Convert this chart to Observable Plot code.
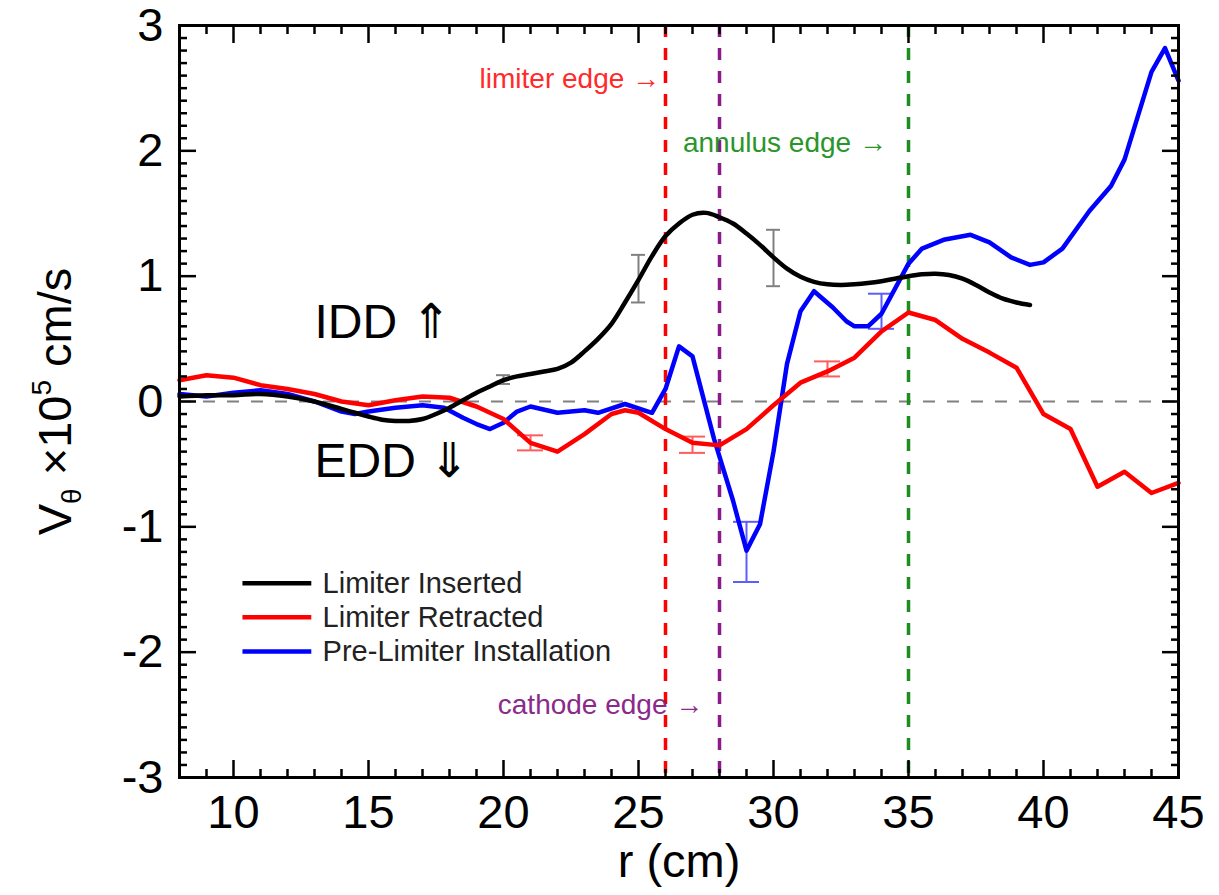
<!DOCTYPE html>
<html><head><meta charset="utf-8">
<script src="https://cdn.jsdelivr.net/npm/d3@7"></script>
<script src="https://cdn.jsdelivr.net/npm/@observablehq/plot@0.6"></script>
<style>html,body{margin:0;padding:0;background:#fff;}</style>
</head><body><div id="chart"></div>
<script>
// ---- Data ----
const seriesNames = ["Limiter Inserted", "Limiter Retracted", "Pre-Limiter Installation"];
const seriesColors = ["#000000", "#ff0000", "#0000ff"];
const errColors = ["#808080", "#ff5c5c", "#5c5cff"];

const insertedR = [8, 9, 10, 11, 12, 13, 14, 14.5, 15, 15.5, 16, 16.5, 17, 17.5, 18, 18.5, 19, 19.5, 20, 20.5, 21, 21.5, 22, 22.5, 23, 23.5, 24, 24.5, 25, 25.5, 26, 26.5, 27, 27.5, 28, 28.5, 29, 29.5, 30, 30.5, 31, 31.5, 32, 32.5, 33, 33.5, 34, 34.5, 35, 35.5, 36, 36.5, 37, 37.5, 38, 38.5, 39, 39.5];
const insertedV = [0.04, 0.05, 0.05, 0.06, 0.04, 0.0, -0.06, -0.09, -0.12, -0.145, -0.155, -0.155, -0.14, -0.10, -0.05, 0.01, 0.07, 0.12, 0.17, 0.20, 0.22, 0.24, 0.26, 0.31, 0.40, 0.50, 0.62, 0.79, 0.97, 1.16, 1.32, 1.42, 1.49, 1.505, 1.47, 1.42, 1.34, 1.25, 1.15, 1.06, 0.995, 0.955, 0.935, 0.93, 0.935, 0.945, 0.96, 0.98, 1.0, 1.015, 1.02, 1.01, 0.98, 0.93, 0.87, 0.82, 0.79, 0.77];

const retractedR = [8, 9, 10, 11, 12, 13, 14, 15, 16, 17, 18, 19, 20, 21, 22, 23, 24, 24.5, 25, 26, 27, 28, 29, 30, 31, 32, 33, 34, 35, 36, 37, 38, 39, 40, 41, 42, 43, 44, 45];
const retractedV = [0.17, 0.21, 0.19, 0.13, 0.10, 0.06, 0.0, -0.03, 0.01, 0.04, 0.03, -0.04, -0.14, -0.33, -0.40, -0.26, -0.10, -0.07, -0.09, -0.22, -0.33, -0.35, -0.22, -0.03, 0.15, 0.24, 0.35, 0.56, 0.71, 0.65, 0.50, 0.39, 0.27, -0.10, -0.22, -0.68, -0.56, -0.73, -0.65];

const preR = [8, 9, 10, 11, 12, 13, 14, 14.5, 15, 16, 17, 17.8, 18.5, 19, 19.5, 20, 20.5, 21, 22, 23, 23.5, 24.5, 25.5, 26, 26.5, 27, 27.8, 28.5, 29, 29.5, 30, 30.5, 31, 31.5, 32.2, 32.7, 33, 33.5, 34, 35, 35.5, 36.3, 37.3, 38, 38.8, 39.5, 40, 40.7, 41.7, 42.5, 43, 44, 44.5, 45];
const preV = [0.06, 0.04, 0.07, 0.09, 0.06, 0.0, -0.08, -0.10, -0.08, -0.05, -0.03, -0.05, -0.13, -0.18, -0.22, -0.17, -0.08, -0.04, -0.09, -0.07, -0.09, -0.02, -0.09, 0.10, 0.44, 0.36, -0.30, -0.79, -1.19, -0.98, -0.40, 0.30, 0.72, 0.88, 0.75, 0.64, 0.60, 0.60, 0.70, 1.10, 1.22, 1.29, 1.33, 1.27, 1.15, 1.09, 1.11, 1.22, 1.52, 1.72, 1.93, 2.63, 2.82, 2.56];

// error bars: series index, r, low, high
const errSeries = [0, 0, 0, 1, 1, 1, 2, 2];
const errR      = [20, 25, 30, 21, 27, 32, 29, 34];
const errLo     = [0.14, 0.79, 0.92, -0.39, -0.41, 0.20, -1.44, 0.58];
const errHi     = [0.21, 1.17, 1.37, -0.27, -0.28, 0.32, -0.96, 0.86];

// edges (vertical dashed lines) and annotations
const edgeR = [26, 28, 35];
const edgeColors = ["#ff0000", "#8b1a8b", "#1e8c1e"];
const noteText = ["limiter edge \u2192", "cathode edge \u2192", "annulus edge \u2192"];
const noteR = [25.8, 27.4, 34.2];
const noteV = [2.57, -2.42, 2.06];
const noteColors = ["#ff2a2a", "#8b2a8b", "#2a962a"];

const regionText = ["IDD \u21d1", "EDD \u21d3"];
const regionR = [13, 13];
const regionV = [0.63, -0.48];

const xMajor = [10, 15, 20, 25, 30, 35, 40, 45];
const yMajor = [-3, -2, -1, 0, 1, 2, 3];
const xMinor = d3.range(8, 46).filter(d => d % 5 !== 0);
const yMinor = d3.range(-30, 31).filter(d => d % 10 !== 0).map(d => d / 10);

const xLabel = "r (cm)";
const yLabel = "V\u03b8 \u00d710\u2075 cm/s";

// ---- tables ----
const inserted = insertedR.map((r, i) => ({s: 0, r, v: insertedV[i]}));
const retracted = retractedR.map((r, i) => ({s: 1, r, v: retractedV[i]}));
const pre = preR.map((r, i) => ({s: 2, r, v: preV[i]}));
const errs = errR.map((r, i) => ({s: errSeries[i], r, lo: errLo[i], hi: errHi[i], color: errColors[errSeries[i]]}));
const errsBlack = errs.filter(d => d.s === 0);
const errsColor = errs.filter(d => d.s !== 0);
const edges = edgeR.map((r, i) => ({r, color: edgeColors[i]}));
const notes = noteText.map((t, i) => ({t, r: noteR[i], v: noteV[i], color: noteColors[i]}));
const regions = regionText.map((t, i) => ({t, r: regionR[i], v: regionV[i]}));
const legend = seriesNames.map((name, i) => ({name, color: seriesColors[i], v: -1.45 - i * 0.272}));

const font = "'Liberation Sans', Arial, Helvetica, sans-serif";

const caps = (data, half) => [
  Plot.ruleY(data, {y: "lo", x1: "r", x2: "r", stroke: "color", strokeWidth: 2, insetLeft: -half, insetRight: -half}),
  Plot.ruleY(data, {y: "hi", x1: "r", x2: "r", stroke: "color", strokeWidth: 2, insetLeft: -half, insetRight: -half})
];

const plot = Plot.plot({
  width: 1219, height: 895,
  marginLeft: 179, marginRight: 41, marginTop: 25, marginBottom: 118,
  x: {domain: [8, 45]},
  y: {domain: [-3, 3]},
  style: {fontFamily: font, background: "#fff", color: "#000", overflow: "visible"},
  marks: [
    Plot.ruleY([0], {stroke: "#808080", strokeWidth: 2, strokeDasharray: "12,12"}),
    Plot.ruleX(edges, {x: "r", stroke: "color", strokeWidth: 3.5, strokeDasharray: "12,11"}),
    // error bars
    Plot.ruleX(errs, {x: "r", y1: "lo", y2: "hi", stroke: "color", strokeWidth: 2}),
    ...caps(errsBlack, 7),
    ...caps(errsColor, 13),
    // curves
    Plot.line(pre, {x: "r", y: "v", stroke: seriesColors[2], strokeWidth: 4.5, strokeLinejoin: "round"}),
    Plot.line(retracted, {x: "r", y: "v", stroke: seriesColors[1], strokeWidth: 4.5, strokeLinejoin: "round"}),
    Plot.line(inserted, {x: "r", y: "v", stroke: seriesColors[0], strokeWidth: 4.5, curve: "catmull-rom"}),
    // annotations
    Plot.text(notes, {x: "r", y: "v", text: "t", fill: "color", fontSize: 28, textAnchor: "end"}),
    Plot.text(regions, {x: "r", y: "v", text: "t", fill: "#000", fontSize: 48, textAnchor: "start"}),
    // legend
    Plot.ruleY(legend, {y: "v", x1: 10.35, x2: 12.9, stroke: "color", strokeWidth: 4.5}),
    Plot.text(legend, {y: "v", x: 13.3, text: "name", fill: "#222", fontSize: 29, textAnchor: "start"}),
    // frame and ticks
    Plot.frame({stroke: "#000", strokeWidth: 3}),
    Plot.axisX({anchor: "bottom", ticks: xMajor, tickSize: -17, strokeWidth: 2.5, tickFormat: () => "", label: null}),
    Plot.axisX({anchor: "top", ticks: xMajor, tickSize: -17, strokeWidth: 2.5, tickFormat: () => "", label: null}),
    Plot.axisX({anchor: "bottom", ticks: xMinor, tickSize: -8, strokeWidth: 2.5, tickFormat: () => "", label: null}),
    Plot.axisX({anchor: "top", ticks: xMinor, tickSize: -8, strokeWidth: 2.5, tickFormat: () => "", label: null}),
    Plot.axisY({anchor: "left", ticks: yMajor, tickSize: -17, strokeWidth: 2.5, tickFormat: () => "", label: null}),
    Plot.axisY({anchor: "right", ticks: yMajor, tickSize: -17, strokeWidth: 2.5, tickFormat: () => "", label: null}),
    Plot.axisY({anchor: "left", ticks: yMinor, tickSize: -8, strokeWidth: 2.5, tickFormat: () => "", label: null}),
    Plot.axisY({anchor: "right", ticks: yMinor, tickSize: -8, strokeWidth: 2.5, tickFormat: () => "", label: null}),
    // tick labels
    Plot.axisX({anchor: "bottom", ticks: xMajor, tickSize: 0, tickPadding: 17, fontSize: 47, tickFormat: d => String(d), label: null}),
    Plot.axisY({anchor: "left", ticks: yMajor, tickSize: 0, tickPadding: 16, fontSize: 47, tickFormat: d => String(d), label: null}),
    // axis titles
    Plot.text([xLabel], {frameAnchor: "bottom", dy: 99, fontSize: 47, text: d => d}),
    Plot.text([yLabel], {frameAnchor: "left", rotate: -90, dx: -124, fontSize: 47, text: d => d})
  ]
});

document.getElementById("chart").appendChild(plot);

// Rich text for the y label (subscript theta, superscript 5)
d3.select(plot).selectAll("text").filter(function () { return this.textContent === yLabel; })
  .each(function () {
    const t = d3.select(this);
    t.attr("text-anchor", "middle").text("");
    t.append("tspan").text("V");
    t.append("tspan").attr("font-size", 28).attr("dy", 10).text("\u03b8");
    t.append("tspan").attr("dy", -10).text(" \u00d710");
    t.append("tspan").attr("font-size", 28).attr("dy", -20).text("5");
    t.append("tspan").attr("dy", 20).text(" cm/s");
  });
</script>
</body></html>
